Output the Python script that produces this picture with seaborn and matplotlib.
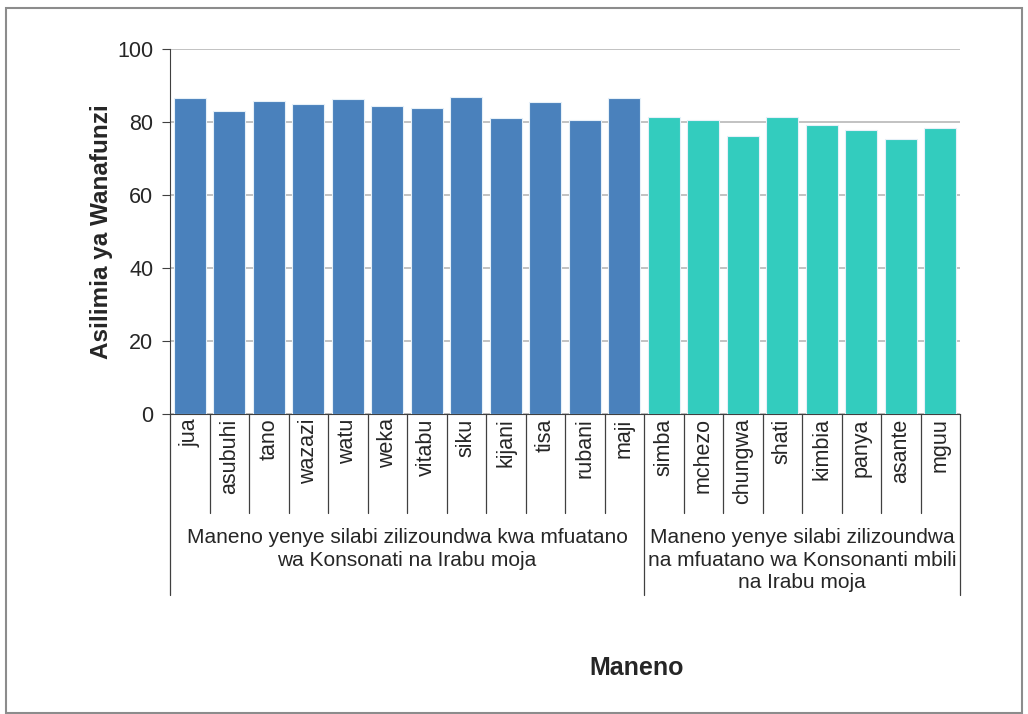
import numpy as np
import pandas as pd
import matplotlib
matplotlib.use("Agg")
import matplotlib.pyplot as plt
import seaborn as sns

# data
words_g1 = ["jua", "asubuhi", "tano", "wazazi", "watu", "weka", "vitabu",
            "siku", "kijani", "tisa", "rubani", "maji"]
values_g1 = [86.7, 83.0, 85.7, 84.8, 86.4, 84.3, 83.7, 86.9, 81.2, 85.4, 80.6, 86.7]
words_g2 = ["simba", "mchezo", "chungwa", "shati", "kimbia", "panya", "asante", "mguu"]
values_g2 = [81.4, 80.5, 76.2, 81.4, 79.1, 77.8, 75.3, 78.3]
group_labels = ["Maneno yenye silabi zilizoundwa kwa mfuatano\nwa Konsonati na Irabu moja",
                "Maneno yenye silabi zilizoundwa\nna mfuatano wa Konsonanti mbili\nna Irabu moja"]
colors = ["#4A81BC", "#33CCBE"]

df = pd.DataFrame({
    "neno": words_g1 + words_g2,
    "asilimia": values_g1 + values_g2,
    "kundi": [group_labels[0]] * len(words_g1) + [group_labels[1]] * len(words_g2),
})

sns.set_style("white")
plt.rcParams["font.family"] = ["Liberation Sans", "DejaVu Sans"]

fig = plt.figure(figsize=(10.28, 7.14), dpi=100)
ax = fig.add_axes([170 / 1028, 1 - 414 / 714, 790 / 1028, 365 / 714])

sns.barplot(data=df, x="neno", y="asilimia", hue="kundi", palette=colors,
            saturation=1, dodge=False, width=0.8, edgecolor="#E6F0F8",
            linewidth=0.8, legend=False, ax=ax, zorder=3)

n = len(df)
ax.set_xlim(-0.5, n - 0.5)
ax.set_ylim(0, 100)
ax.set_yticks([0, 20, 40, 60, 80, 100])
ax.yaxis.grid(True, color="#B8B8B8", linewidth=1.2, zorder=0)
ax.tick_params(axis="y", labelsize=15.5, length=6, direction="out", left=True,
               color="#404040", pad=6)
ax.tick_params(axis="x", length=0)
ax.set_xticks([])
for s in ["top", "right"]:
    ax.spines[s].set_visible(False)
ax.spines["left"].set_color("#404040")
ax.spines["bottom"].set_color("#404040")

ax.set_xlabel("")
ax.set_ylabel("Asilimia ya Wanafunzi", fontsize=17.5, fontweight="bold", labelpad=3)

trans = ax.get_xaxis_transform()
# word labels
for i, w in enumerate(df["neno"]):
    ax.text(i, -0.012, w, rotation=90, ha="center", va="top", fontsize=15.5,
            transform=trans)
# separators between words
for i in range(n + 1):
    x = i - 0.5
    bottom = -0.496 if i in (0, len(words_g1), n) else -0.271
    ax.plot([x, x], [0, bottom], color="#404040", linewidth=0.9,
            transform=trans, clip_on=False)
# group labels
ax.text((len(words_g1) - 1) / 2, -0.312, group_labels[0], ha="center", va="top",
        fontsize=15, transform=trans, linespacing=1.25)
ax.text(len(words_g1) + (len(words_g2) - 1) / 2, -0.312, group_labels[1], ha="center",
        va="top", fontsize=15, transform=trans, linespacing=1.25)

fig.text(637 / 1028, 1 - 668 / 714, "Maneno", ha="center", va="center",
         fontsize=18, fontweight="bold")

# outer frame
fig.patches.append(plt.Rectangle((6 / 1028, 0.002), 1016 / 1028, 1 - 8 / 714 - 0.002,
                                 transform=fig.transFigure, fill=False,
                                 edgecolor="#8C8C8C", linewidth=1.5))

fig.savefig("out.png", dpi=100)
